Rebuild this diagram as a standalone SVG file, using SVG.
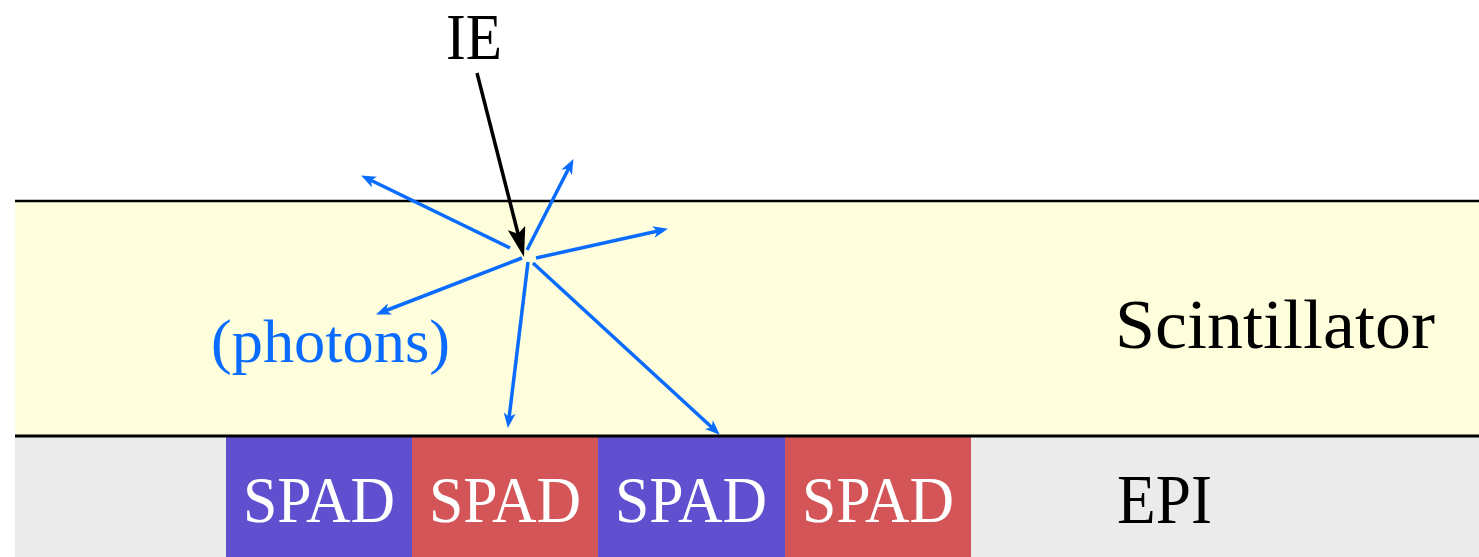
<svg xmlns="http://www.w3.org/2000/svg" width="1479" height="557" viewBox="0 0 1479 557">
<style>
.lbl{font-family:"Liberation Serif","Times New Roman",serif;font-size:70px;fill:#000}
.spad{font-family:"Liberation Serif","Times New Roman",serif;font-size:66px;fill:#fff;text-anchor:middle}
.ph{stroke:#0a6cff;stroke-width:3.5;fill:none}
</style>
<defs>
<marker id="bh" markerUnits="userSpaceOnUse" markerWidth="15" markerHeight="12" refX="7" refY="6" orient="auto" viewBox="0 0 15 12">
<path d="M0,0 L15,6 L0,12 L4,6 z" fill="#0a6cff"/>
</marker>
<marker id="kh" markerUnits="userSpaceOnUse" markerWidth="30" markerHeight="18" refX="15" refY="9" orient="auto" viewBox="0 0 30 18">
<path d="M0,0 L30,9 L0,18 L6,9 z" fill="#000"/>
</marker>
</defs>
<rect width="1479" height="557" fill="#fff"/>
<g id="scintillator">
<rect x="15" y="201" width="1464" height="235" fill="#fefedc"/>
<text class="lbl" x="1115" y="348" textLength="320" lengthAdjust="spacingAndGlyphs">Scintillator</text>
</g>
<g id="epi">
<rect x="15" y="437" width="1464" height="120" fill="#ebebeb"/>
<text class="lbl" x="1117" y="523" textLength="95" lengthAdjust="spacingAndGlyphs">EPI</text>
</g>
<g id="spad1"><rect x="226" y="437" width="186" height="120" fill="#6050d0"/><text class="spad" x="319" y="522" textLength="152" lengthAdjust="spacingAndGlyphs">SPAD</text></g>
<g id="spad2"><rect x="412" y="437" width="186" height="120" fill="#d45558"/><text class="spad" x="505" y="522" textLength="152" lengthAdjust="spacingAndGlyphs">SPAD</text></g>
<g id="spad3"><rect x="598" y="437" width="187" height="120" fill="#6050d0"/><text class="spad" x="691" y="522" textLength="152" lengthAdjust="spacingAndGlyphs">SPAD</text></g>
<g id="spad4"><rect x="785" y="437" width="186" height="120" fill="#d45558"/><text class="spad" x="878" y="522" textLength="152" lengthAdjust="spacingAndGlyphs">SPAD</text></g>
<g id="boundaries">
<line x1="15" y1="201" x2="1479" y2="201" stroke="#000" stroke-width="2.5"/>
<line x1="15" y1="436" x2="1479" y2="436" stroke="#000" stroke-width="3"/>
</g>
<g id="ie">
<text x="446" y="59" font-family="Liberation Serif, Times New Roman, serif" font-size="66" fill="#000" textLength="56" lengthAdjust="spacingAndGlyphs">IE</text>
</g>
<g id="photons-label">
<text x="211" y="362" font-family="Liberation Serif, Times New Roman, serif" font-size="62" fill="#0a6cff" textLength="239" lengthAdjust="spacingAndGlyphs">(photons)</text>
</g>
<g id="connectors">
<line x1="477" y1="73" x2="520.3" y2="242.5" stroke="#000" stroke-width="3.5" marker-end="url(#kh)"/>
<line class="ph" x1="510" y1="248" x2="368.3" y2="179" marker-end="url(#bh)"/>
<line class="ph" x1="527" y1="250" x2="569.8" y2="166.2" marker-end="url(#bh)"/>
<line class="ph" x1="536" y1="258" x2="660.2" y2="230.5" marker-end="url(#bh)"/>
<line class="ph" x1="522" y1="258" x2="383.5" y2="311.5" marker-end="url(#bh)"/>
<line class="ph" x1="528" y1="262" x2="508.8" y2="420" marker-end="url(#bh)"/>
<line class="ph" x1="533" y1="263" x2="713.9" y2="429.3" marker-end="url(#bh)"/>
</g>
</svg>
